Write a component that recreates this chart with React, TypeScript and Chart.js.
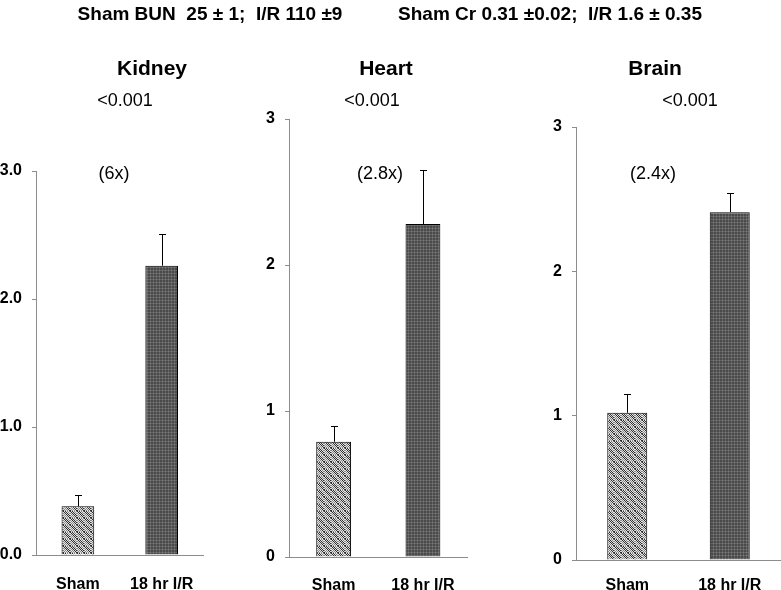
import React, { useEffect, useRef } from "react";
import { Chart, registerables } from "chart.js";
Chart.register(...registerables);

const categories = ["Sham", "18 hr I/R"];
const kidneyValues = [0.38, 2.26];
const kidneyErrors = [0.09, 0.25];
const heartValues = [0.79, 2.28];
const heartErrors = [0.11, 0.37];
const brainValues = [1.02, 2.41];
const brainErrors = [0.13, 0.13];
const kidneyTicks = ["0.0", "1.0", "2.0", "3.0"];
const plainTicks = ["0", "1", "2", "3"];
const panelTitles = ["Kidney", "Heart", "Brain"];
const pValues = ["<0.001", "<0.001", "<0.001"];
const foldChanges = ["(6x)", "(2.8x)", "(2.4x)"];
const headerTexts = ["Sham BUN  25 \u00b1 1;  I/R 110 \u00b19", "Sham Cr 0.31 \u00b10.02;  I/R 1.6 \u00b1 0.35"];

const FONT = "'Liberation Sans', Arial, Helvetica, sans-serif";

function makeHatch(): CanvasPattern | string {
  const n = 7;
  const c = document.createElement("canvas");
  c.width = n;
  c.height = n;
  const g = c.getContext("2d");
  if (!g) return "#aaa";
  for (let y = 0; y < n; y++) {
    for (let x = 0; x < n; x++) {
      const d = (((x - y) % n) + n) % n;
      const checker = (x + y) % 2 === 0;
      let col;
      if (d < 3) col = checker ? "#2e2e2e" : "#d8d8d8";
      else col = checker ? "#8a8a8a" : "#e4e4e4";
      g.fillStyle = col;
      g.fillRect(x, y, 1, 1);
    }
  }
  return g.createPattern(c, "repeat") || "#aaa";
}

function makeGrid(): CanvasPattern | string {
  const n = 3;
  const c = document.createElement("canvas");
  c.width = n;
  c.height = n;
  const g = c.getContext("2d");
  if (!g) return "#555";
  g.fillStyle = "#4a4a4a";
  g.fillRect(0, 0, n, n);
  g.fillStyle = "#636363";
  g.fillRect(0, 0, n, 1);
  g.fillRect(0, 0, 1, n);
  g.fillStyle = "#7a7a7a";
  g.fillRect(0, 0, 1, 1);
  return g.createPattern(c, "repeat") || "#555";
}

type PanelCfg = {
  left: number;
  width: number;
  axisWidth: number;
  padTop: number;
  padRight: number;
  xHeight: number;
  xPad: number;
  values: number[];
  errors: number[];
  ticks: string[];
};

const panels: PanelCfg[] = [
  { left: 0, width: 215, axisWidth: 36, padTop: 171, padRight: 7, xHeight: 35, xPad: 20, values: kidneyValues, errors: kidneyErrors, ticks: kidneyTicks },
  { left: 240, width: 235, axisWidth: 49, padTop: 119, padRight: 6, xHeight: 33, xPad: 19, values: heartValues, errors: heartErrors, ticks: plainTicks },
  { left: 530, width: 251, axisWidth: 46, padTop: 127, padRight: 0, xHeight: 30, xPad: 16, values: brainValues, errors: brainErrors, ticks: plainTicks },
];

function Panel({ cfg }: { cfg: PanelCfg }) {
  const ref = useRef<HTMLCanvasElement | null>(null);
  useEffect(() => {
    if (!ref.current) return;
    const hatch = makeHatch();
    const grid = makeGrid();
    const errorPlugin = {
      id: "errorBars",
      afterDatasetsDraw(chart: any) {
        const ctx = chart.ctx;
        const meta = chart.getDatasetMeta(0);
        const yScale = chart.scales.y;
        ctx.save();
        ctx.strokeStyle = "#000";
        ctx.lineWidth = 1;
        meta.data.forEach((bar: any, i: number) => {
          const x = Math.round(bar.x) + 0.5;
          const yTop = yScale.getPixelForValue(cfg.values[i] + cfg.errors[i]);
          const yBar = bar.y;
          ctx.beginPath();
          ctx.moveTo(x, yBar);
          ctx.lineTo(x, Math.round(yTop) + 0.5);
          ctx.moveTo(x - 3.5, Math.round(yTop) + 0.5);
          ctx.lineTo(x + 3.5, Math.round(yTop) + 0.5);
          ctx.stroke();
        });
        ctx.restore();
      },
    };
    const chart = new Chart(ref.current, {
      type: "bar",
      data: {
        labels: categories,
        datasets: [
          {
            data: cfg.values,
            backgroundColor: [hatch, grid] as any,
            borderColor: "#000",
            borderWidth: 1,
            barPercentage: 0.39,
            categoryPercentage: 1,
          },
        ],
      },
      options: {
        responsive: false,
        animation: false,
        devicePixelRatio: 1,
        layout: { padding: { top: cfg.padTop, right: cfg.padRight, left: 0, bottom: 0 } },
        plugins: { legend: { display: false }, tooltip: { enabled: false }, title: { display: false } },
        scales: {
          x: {
            grid: { display: false, drawTicks: false },
            border: { display: true, color: "#8c8c8c", width: 1 },
            ticks: { color: "#000", font: { family: FONT, size: 16, weight: "bold" }, padding: cfg.xPad, maxRotation: 0 },
            afterFit: (s: any) => {
              s.height = cfg.xHeight;
            },
          },
          y: {
            min: 0,
            max: 3,
            grid: { display: true, drawOnChartArea: false, drawTicks: true, tickLength: 4, color: "#8c8c8c" },
            border: { display: true, color: "#8c8c8c", width: 1 },
            ticks: {
              stepSize: 1,
              color: "#000",
              padding: 10,
              font: { family: FONT, size: 16, weight: "bold" },
              callback: (v: any) => cfg.ticks[Math.round(Number(v))],
            },
            afterFit: (s: any) => {
              s.width = cfg.axisWidth;
            },
          },
        },
      },
      plugins: [errorPlugin],
    });
    return () => chart.destroy();
  }, [cfg]);
  return (
    <canvas
      ref={ref}
      width={cfg.width}
      height={590}
      style={{ position: "absolute", left: cfg.left, top: 0, width: cfg.width, height: 590 }}
    />
  );
}

const textBase: React.CSSProperties = {
  position: "absolute",
  transform: "translate(-50%, -50%)",
  whiteSpace: "pre",
  fontFamily: FONT,
  color: "#000",
  lineHeight: 1,
};

const titleX = [152, 386, 655];
const pX = [125, 372, 690];
const foldX = [114, 380, 653];

export default function App() {
  return (
    <div style={{ position: "absolute", left: 0, top: 0, width: 781, height: 590, background: "#fff", overflow: "hidden" }}>
      {panels.map((p, i) => (
        <Panel key={i} cfg={p} />
      ))}
      <div style={{ ...textBase, left: 210, top: 13, fontSize: 19, fontWeight: "bold" }}>{headerTexts[0]}</div>
      <div style={{ ...textBase, left: 550, top: 13, fontSize: 19, fontWeight: "bold" }}>{headerTexts[1]}</div>
      {panelTitles.map((t, i) => (
        <div key={"t" + i} style={{ ...textBase, left: titleX[i], top: 67, fontSize: 21, fontWeight: "bold" }}>{t}</div>
      ))}
      {pValues.map((t, i) => (
        <div key={"p" + i} style={{ ...textBase, left: pX[i], top: 100, fontSize: 18 }}>{t}</div>
      ))}
      {foldChanges.map((t, i) => (
        <div key={"f" + i} style={{ ...textBase, left: foldX[i], top: 173, fontSize: 18 }}>{t}</div>
      ))}
    </div>
  );
}
